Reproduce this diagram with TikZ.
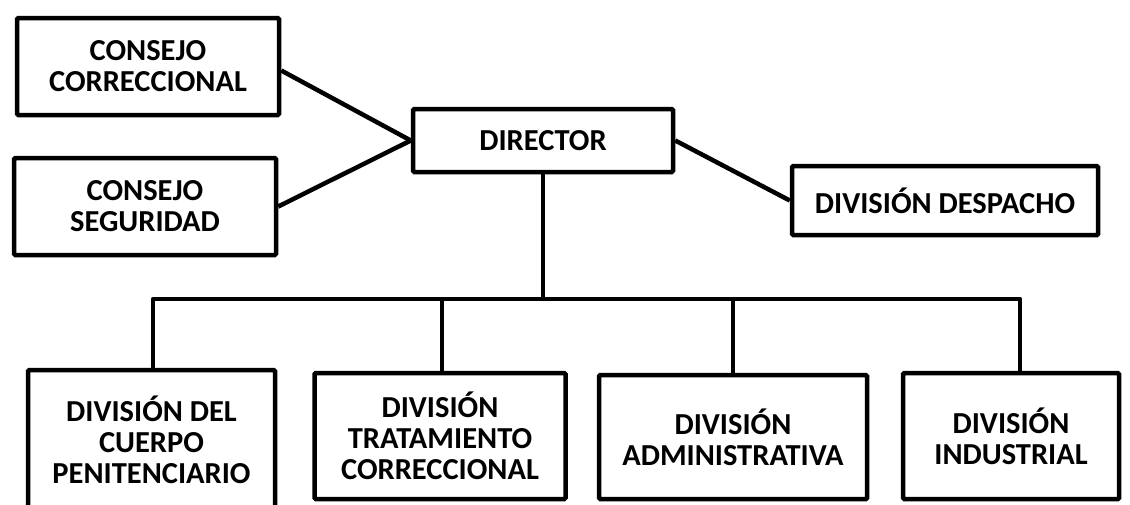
\documentclass[tikz,border=0pt]{standalone}
\usepackage{fontspec}
\setmainfont{Carlito}
\begin{document}
\begin{tikzpicture}[x=1pt,y=-1pt,
  box/.style={draw=black,line width=4.5pt,rounded corners=1.2pt,fill=white,align=center,
    font=\bfseries\fontsize{30.5}{31}\selectfont,inner sep=0pt},
  link/.style={draw=black,line width=4.5pt}]
\useasboundingbox (0,0) rectangle (1130,504);
\node[box,minimum width=262pt,minimum height=97pt] (c1) at (148,66.5) {CONSEJO\\CORRECCIONAL};
\node[box,minimum width=262pt,minimum height=97pt] (c2) at (145,206.5) {CONSEJO\\SEGURIDAD};
\node[box,minimum width=260pt,minimum height=63pt] (dir) at (543,140.5) {DIRECTOR};
\node[box,minimum width=306pt,minimum height=69pt] (desp) at (945,200.5) {DIVISIÓN DESPACHO};
\node[box,minimum width=247pt,minimum height=140pt] (b1) at (151.5,440) {DIVISIÓN DEL\\CUERPO\\PENITENCIARIO};
\node[box,minimum width=251pt,minimum height=126pt] (b2) at (440,436) {DIVISIÓN\\TRATAMIENTO\\CORRECCIONAL};
\node[box,minimum width=268pt,minimum height=124pt] (b3) at (733,437) {DIVISIÓN\\ADMINISTRATIVA};
\node[box,minimum width=216pt,minimum height=126pt] (b4) at (1011,436) {DIVISIÓN\\INDUSTRIAL};
\coordinate (bus) at (543,299);
\draw[link] ([yshift=-4pt]c1.east) -- (dir.west);
\draw[link] (c2.east) -- (dir.west);
\draw[link] (dir.east) -- (desp.west);
\draw[link] (dir.south) -- (bus);
\draw[link,line join=round] ([xshift=1.5pt]b1.north) |- (bus);
\draw[link] ([xshift=2pt]b2.north) -- ([xshift=2pt]b2.north |- bus);
\draw[link] (b3.north) -- (b3.north |- bus);
\draw[link,line join=round] ([xshift=9pt]b4.north) |- (bus);
\end{tikzpicture}
\end{document}
